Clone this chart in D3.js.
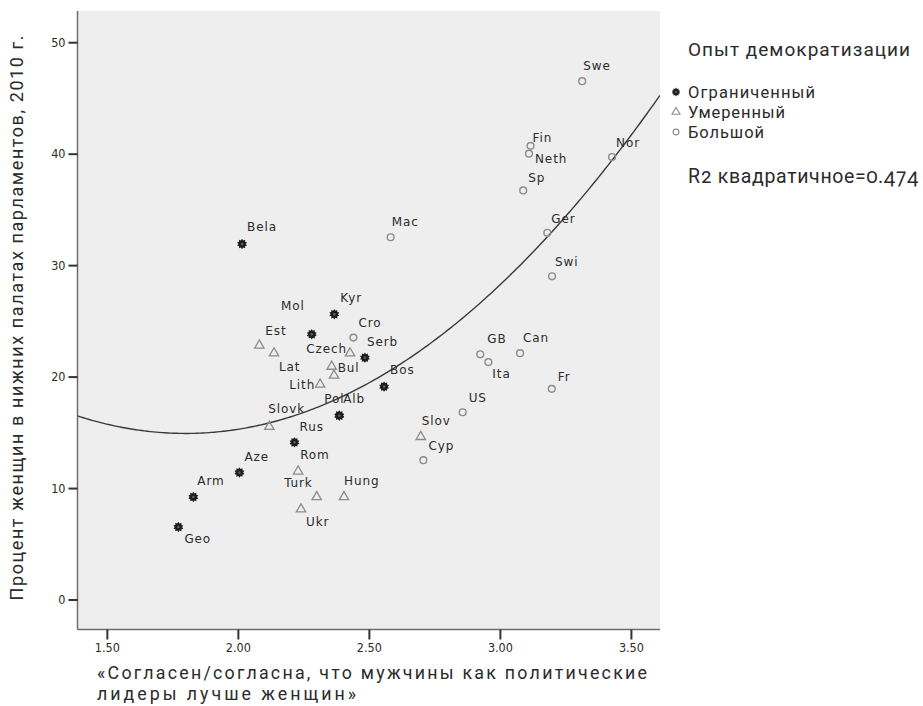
<!DOCTYPE html>
<html>
<head>
<meta charset="utf-8">
<script src="https://cdn.jsdelivr.net/npm/d3@7/dist/d3.min.js"></script>
<style>
  body { margin: 0; background: #fff; }
  svg text { fill: #2b2b2b; }
</style>
</head>
<body>
<svg id="chart" width="923" height="706"></svg>
<script>
// Countries, attitude score (x), share of women in lower house 2010 (y), democratization group
const countries = ["Bela","Kyr","Mol","Serb","Bos","Pol","Alb","Rus","Aze","Arm","Geo",
  "Est","Lat","Czech","Bul","","Lith","Slovk","Slov","Rom","Turk","Hung","Ukr",
  "Swe","Fin","Neth","Nor","Sp","Ger","Mac","Swi","Cro","GB","Ita","Can","Fr","US","Cyp"];
const attitudeScore = [2.016,2.368,2.282,2.485,2.558,2.387,2.387,2.216,2.006,1.830,1.773,
  2.082,2.138,2.428,2.358,2.367,2.314,2.120,2.698,2.230,2.301,2.405,2.241,
  3.314,3.117,3.111,3.428,3.089,3.181,2.583,3.199,2.441,2.925,2.956,3.077,3.198,2.858,2.708];
const womenShare = [31.9,25.6,23.8,21.7,19.1,16.5,16.5,14.1,11.4,9.2,6.5,
  22.8,22.1,22.1,20.9,20.1,19.3,15.5,14.6,11.5,9.2,9.2,8.1,
  46.5,40.7,40.0,39.7,36.7,32.9,32.5,29.0,23.5,22.0,21.3,22.1,18.9,16.8,12.5];
const democracyGroup = [0,0,0,0,0,0,0,0,0,0,0,
  1,1,1,1,1,1,1,1,1,1,1,1,
  2,2,2,2,2,2,2,2,2,2,2,2,2,2,2];
const groupNames = ["Ограниченный", "Умеренный", "Большой"];
const xTicks = [1.5, 2.0, 2.5, 3.0, 3.5];
const yTicks = [0, 10, 20, 30, 40, 50];
// Quadratic fit: y = c0 + c1*x + c2*x^2
const quadFit = [44.87, -33.3, 9.25];
const rSquared = 0.474;

// Label nudges relative to each marker: [dx, dy, anchor]
const labelNudge = {
  Bela:[5,-17], Kyr:[6,-16], Mol:[-7,-29,"end"], Serb:[2,-16], Bos:[6,-17],
  Pol:[-15,-17], Alb:[4,-17], Rus:[5,-16], Aze:[5,-16], Arm:[4,-16], Geo:[6,12],
  Est:[6,-15], Lat:[5,13], Czech:[-3,-5,"end"], Bul:[6,1], Lith:[-5,0,"end"],
  Slovk:[-1,-18], Slov:[1,-16], Rom:[2,-17], Turk:[-4,-14,"end"], Hung:[0,-16], Ukr:[5,12],
  Swe:[1,-16], Fin:[2,-8], Neth:[6,5], Nor:[4,-14], Sp:[5,-13], Ger:[4,-14], Mac:[1,-16],
  Swi:[3,-15], Cro:[5,-15], GB:[7,-16], Ita:[4,12], Can:[3,-16], Fr:[6,-12], US:[6,-15], Cyp:[5,-15]
};

const svg = d3.select("#chart");
const plot = { left: 77.5, right: 660, top: 11, bottom: 629.5 };

const x = d3.scaleLinear().domain([1.388, 3.611]).range([plot.left, plot.right]);
const y = d3.scaleLinear().domain([-2.69, 52.8]).range([plot.bottom, plot.top]);

// plot background
svg.append("rect")
  .attr("x", plot.left).attr("y", plot.top)
  .attr("width", plot.right - plot.left).attr("height", plot.bottom - plot.top)
  .attr("fill", "#eeeeef");

// axes
const tickFont = "'DejaVu Sans Condensed', 'DejaVu Sans', sans-serif";
const yAxis = svg.append("g").attr("transform", `translate(${plot.left},0)`)
  .call(d3.axisLeft(y).tickValues(yTicks).tickFormat(d3.format("d")).tickSize(9).tickPadding(3));
const xAxis = svg.append("g").attr("transform", `translate(0,${plot.bottom})`)
  .call(d3.axisBottom(x).tickValues(xTicks).tickFormat(d3.format(".2f")).tickSize(10).tickPadding(4));
[xAxis, yAxis].forEach(g => {
  g.select(".domain").attr("stroke", "#6e6e6e").attr("stroke-width", 1.5);
  g.selectAll(".tick line").attr("stroke", "#333").attr("stroke-width", 2);
  g.selectAll(".tick text").attr("font-family", tickFont).attr("font-size", 12.5).attr("fill", "#2b2b2b");
});
xAxis.select(".domain").attr("d", `M${plot.left},0H${plot.right}`);
yAxis.select(".domain").attr("d", `M0,${plot.bottom}V${plot.top}`);

// fit curve
svg.append("clipPath").attr("id", "plotClip").append("rect")
  .attr("x", plot.left).attr("y", plot.top)
  .attr("width", plot.right - plot.left).attr("height", plot.bottom - plot.top);
const fitX = d3.range(0, 201).map(i => x.domain()[0] + (x.domain()[1] - x.domain()[0]) * i / 200);
svg.append("path")
  .attr("clip-path", "url(#plotClip)")
  .datum(fitX)
  .attr("fill", "none").attr("stroke", "#3a3a3a").attr("stroke-width", 1.4)
  .attr("d", d3.line().x(d => x(d)).y(d => y(quadFit[0] + quadFit[1] * d + quadFit[2] * d * d)));

// marker shapes
function burstPath(rOut, rIn, n) {
  const pts = [];
  for (let i = 0; i < n * 2; i++) {
    const a = Math.PI * i / n;
    const r = i % 2 === 0 ? rOut : rIn;
    pts.push([r * Math.sin(a), -r * Math.cos(a)]);
  }
  return "M" + pts.map(p => p.join(",")).join("L") + "Z";
}
function drawMarker(g, grp) {
  if (grp === 0) {
    g.append("path").attr("d", burstPath(5.2, 3.7, 10)).attr("fill", "#1e1e1e");
    g.append("circle").attr("r", 1.2).attr("fill", "#666");
  } else if (grp === 1) {
    g.append("path").attr("d", d3.symbol(d3.symbolTriangle, 38)())
      .attr("fill", "none").attr("stroke", "#8c8c8c").attr("stroke-width", 1.3);
  } else {
    g.append("circle").attr("r", 3.4)
      .attr("fill", "none").attr("stroke", "#8c8c8c").attr("stroke-width", 1.4);
  }
}

const points = countries.map((c, i) => ({ name: c, xv: attitudeScore[i], yv: womenShare[i], grp: democracyGroup[i] }));

const markers = svg.append("g");
points.forEach(p => {
  const g = markers.append("g").attr("transform", `translate(${x(p.xv)},${y(p.yv)})`);
  drawMarker(g, p.grp);
});

const labelFont = "'DejaVu Sans', sans-serif";
const labels = svg.append("g");
points.filter(p => p.name).forEach(p => {
  const n = labelNudge[p.name] || [4, -15];
  labels.append("text")
    .attr("x", x(p.xv) + n[0]).attr("y", y(p.yv) + n[1])
    .attr("dy", "0.36em")
    .attr("text-anchor", n[2] || "start")
    .attr("font-family", labelFont).attr("font-size", 12).attr("letter-spacing", 0.9)
    .attr("fill", "#2b2b2b")
    .text(p.name);
});

// titles use a fixed run length, spread by letter spacing
const titleFont = "Roboto, 'Open Sans', sans-serif";
function titleText(parent, str, size, length) {
  return parent.append("text")
    .attr("font-family", titleFont).attr("font-size", size)
    .attr("textLength", length).attr("lengthAdjust", "spacing")
    .attr("dy", "0.36em")
    .text(str);
}

titleText(svg, "Процент женщин в нижних палатах парламентов, 2010 г.", 18, 565)
  .attr("transform", "translate(17,318) rotate(-90)")
  .attr("text-anchor", "middle");

const xTitle = ["«Согласен/согласна, что мужчины как политические", "лидеры лучше женщин»"];
const xTitleLengths = [550, 259];
xTitle.forEach((t, i) => {
  titleText(svg, t, 17.8, xTitleLengths[i]).attr("x", 97).attr("y", 673 + i * 21);
});

// legend
const legend = svg.append("g");
titleText(legend, "Опыт демократизации", 19, 222).attr("x", 688).attr("y", 49);
const legendLengths = [127, 97, 76];
groupNames.forEach((name, i) => {
  const gy = 92 + i * 20;
  const mg = legend.append("g").attr("transform", `translate(676,${gy}) scale(0.85)`);
  drawMarker(mg, i);
  titleText(legend, name, 16.5, legendLengths[i]).attr("x", 688).attr("y", gy);
});
titleText(legend, "R2 квадратичное=" + rSquared.toFixed(3), 19.5, 230)
  .attr("x", 688).attr("y", 176)
  .style("font-variant-numeric", "oldstyle-nums");
</script>
</body>
</html>
